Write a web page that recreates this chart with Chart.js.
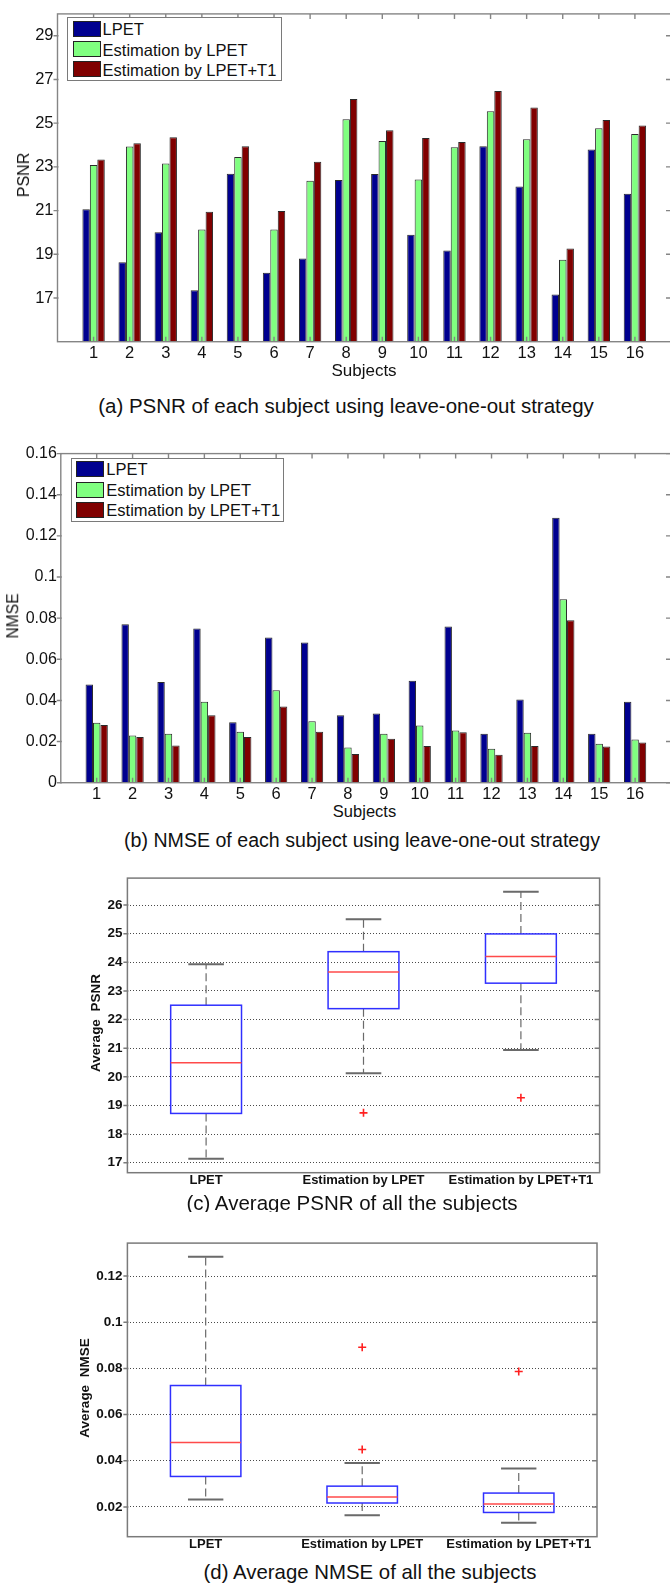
<!DOCTYPE html>
<html>
<head>
<meta charset="utf-8">
<script src="https://cdn.jsdelivr.net/npm/chart.js@4.4.1/dist/chart.umd.min.js"></script>
<style>
html, body { margin: 0; padding: 0; background: #fff; overflow: hidden; }
body { width: 670px; height: 1583px; position: relative; font-family: "Liberation Sans", Arial, sans-serif; color: #111; }
.panel { position: absolute; left: 0; }
.panel canvas { display: block; }
.t { position: absolute; white-space: pre; line-height: 1; }
.c { transform: translateX(-50%); }
.r { transform: translate(-50%, -50%) rotate(-90deg); }
.b { font-weight: bold; }
.legend { position: absolute; border: 1px solid #7a7a7a; background: #fff; box-sizing: border-box; }
.sw { position: absolute; border: 1px solid #222; box-sizing: border-box; }
.clip { position: absolute; left: 0; width: 670px; overflow: hidden; }
</style>
</head>
<body>

<div class="panel" style="top:0px"><canvas id="psnrBars" width="672" height="362"></canvas></div>
<div class="panel" style="top:440px"><canvas id="nmseBars" width="672" height="362"></canvas></div>
<div class="panel" style="top:865px"><canvas id="psnrBox" width="670" height="325"></canvas></div>
<div class="panel" style="top:1230px"><canvas id="nmseBox" width="670" height="325"></canvas></div>

<!-- axis titles -->
<div class="t r" style="left:23.5px;top:175px;font-size:16px">PSNR</div>
<div class="t c" style="left:364px;top:361.6px;font-size:17px">Subjects</div>
<div class="t r" style="left:12.8px;top:615.5px;font-size:15.6px">NMSE</div>
<div class="t c" style="left:364.5px;top:803px;font-size:16.5px">Subjects</div>
<div class="t r b" style="left:96px;top:1023px;font-size:13.5px">Average  PSNR</div>
<div class="t r b" style="left:85px;top:1387.5px;font-size:13.5px">Average  NMSE</div>

<!-- captions -->
<div class="t c" style="left:346px;top:396px;font-size:20.5px">(a) PSNR of each subject using leave-one-out strategy</div>
<div class="t c" style="left:362px;top:830.9px;font-size:19.6px">(b) NMSE of each subject using leave-one-out strategy</div>
<div class="clip" style="top:1185px;height:27px"><div class="t c" style="left:352px;top:8.3px;font-size:20.5px">(c) Average PSNR of all the subjects</div></div>
<div class="t c" style="left:370px;top:1562.2px;font-size:20.4px">(d) Average NMSE of all the subjects</div>

<div id="legA" class="legend" style="left:66.7px;top:17px;width:215px;height:64px"></div>
<div id="legB" class="legend" style="left:70.5px;top:457.7px;width:213.5px;height:64.6px"></div>

<script>
// ---- data ----
var seriesNames = ['LPET', 'Estimation by LPET', 'Estimation by LPET+T1'];
var seriesColors = ['#00008f', '#80ff80', '#800000'];
var subjects = [1, 2, 3, 4, 5, 6, 7, 8, 9, 10, 11, 12, 13, 14, 15, 16];

var psnrLpet      = [21.06, 18.63, 20.01, 17.36, 22.69, 18.15, 18.81, 22.40, 22.67, 19.89, 19.17, 23.94, 22.10, 17.16, 23.79, 21.77];
var psnrEstLpet   = [23.09, 23.93, 23.15, 20.13, 23.45, 20.13, 22.36, 25.18, 24.18, 22.42, 23.90, 25.54, 24.26, 18.75, 24.77, 24.50];
var psnrEstLpetT1 = [23.34, 24.08, 24.35, 20.95, 23.94, 20.98, 23.24, 26.11, 24.68, 24.32, 24.14, 26.47, 25.72, 19.27, 25.14, 24.89];

var nmseLpet      = [0.0477, 0.0770, 0.0490, 0.0750, 0.0294, 0.0706, 0.0682, 0.0328, 0.0336, 0.0496, 0.0760, 0.0238, 0.0405, 0.1288, 0.0238, 0.0394];
var nmseEstLpet   = [0.0291, 0.0229, 0.0238, 0.0394, 0.0248, 0.0450, 0.0299, 0.0171, 0.0238, 0.0278, 0.0254, 0.0165, 0.0243, 0.0892, 0.0189, 0.0210];
var nmseEstLpetT1 = [0.0280, 0.0222, 0.0181, 0.0328, 0.0222, 0.0370, 0.0248, 0.0139, 0.0214, 0.0179, 0.0245, 0.0136, 0.0179, 0.0790, 0.0176, 0.0195];

var psnrTicks = [17, 19, 21, 23, 25, 27, 29];
var nmseTicks = [0, 0.02, 0.04, 0.06, 0.08, 0.1, 0.12, 0.14, 0.16];

var methods = ['LPET', 'Estimation by LPET', 'Estimation by LPET+T1'];
var psnrBoxLo  = [17.14, 20.12, 20.94];
var psnrBoxQ1  = [18.72, 22.38, 23.27];
var psnrBoxMed = [20.49, 23.66, 24.20];
var psnrBoxQ3  = [22.50, 24.37, 24.99];
var psnrBoxHi  = [23.93, 25.50, 26.46];
var psnrOutX   = [2, 3];
var psnrOutY   = [18.74, 19.27];
var avgPsnrTicks = [17, 18, 19, 20, 21, 22, 23, 24, 25, 26];

var nmseBoxLo  = [0.0232, 0.0164, 0.0131];
var nmseBoxQ1  = [0.0332, 0.0217, 0.0176];
var nmseBoxMed = [0.0479, 0.0243, 0.0213];
var nmseBoxQ3  = [0.0726, 0.0290, 0.0260];
var nmseBoxHi  = [0.1284, 0.0390, 0.0366];
var nmseOutX   = [2, 2, 3];
var nmseOutY   = [0.0892, 0.0449, 0.0787];
var avgNmseTicks = [0.02, 0.04, 0.06, 0.08, 0.1, 0.12];

Chart.defaults.font.family = '"Liberation Sans", Arial, sans-serif';
Chart.defaults.color = '#111';

function fmt(v) { return String(+Number(v).toFixed(3)); }

/* ── matlab style axes box: left ticks stick out, the rest point inward ── */
var matlabFrame = {
  id: 'matlabFrame',
  afterDraw: function(chart, args, opts) {
    var ctx = chart.ctx, a = chart.chartArea, sx = chart.scales.x, sy = chart.scales.y;
    var tl = opts.tickLen;
    ctx.save();
    ctx.strokeStyle = opts.color;
    ctx.lineWidth = opts.width;
    ctx.beginPath();
    sy.ticks.forEach(function(t) {
      var y = sy.getPixelForValue(t.value);
      ctx.moveTo(a.left - 4, y); ctx.lineTo(a.left + 1, y);
      ctx.moveTo(a.right, y); ctx.lineTo(a.right - tl, y);
    });
    if (opts.xTicks) {
      sx.ticks.forEach(function(t) {
        var x = sx.getPixelForValue(t.value);
        ctx.moveTo(x, a.top); ctx.lineTo(x, a.top + tl);
        ctx.moveTo(x, a.bottom); ctx.lineTo(x, a.bottom - tl);
      });
    }
    ctx.stroke();
    ctx.strokeRect(a.left, a.top, a.right - a.left, a.bottom - a.top);
    ctx.restore();
  }
};

/* ── box + whiskers drawn through the chart scales ── */
function boxPlugin(lo, q1, med, q3, hi) {
  return {
    id: 'boxes',
    beforeDatasetsDraw: function(chart) {
      var ctx = chart.ctx, sx = chart.scales.x, sy = chart.scales.y;
      ctx.save();
      for (var i = 0; i < med.length; i++) {
        var cx = sx.getPixelForValue(i + 1);
        var hw = sx.getPixelForValue(i + 1.225) - cx;
        var cw = sx.getPixelForValue(i + 1.113) - cx;
        var yLo = sy.getPixelForValue(lo[i]), yQ1 = sy.getPixelForValue(q1[i]);
        var yMed = sy.getPixelForValue(med[i]);
        var yQ3 = sy.getPixelForValue(q3[i]), yHi = sy.getPixelForValue(hi[i]);
        // dashed whiskers
        ctx.setLineDash([8, 4]);
        ctx.strokeStyle = '#6a6a6a';
        ctx.lineWidth = 1.2;
        ctx.beginPath();
        ctx.moveTo(cx, yQ3); ctx.lineTo(cx, yHi);
        ctx.moveTo(cx, yQ1); ctx.lineTo(cx, yLo);
        ctx.stroke();
        ctx.setLineDash([]);
        // caps
        ctx.strokeStyle = '#6a6a6a';
        ctx.lineWidth = 2;
        ctx.beginPath();
        ctx.moveTo(cx - cw, yHi); ctx.lineTo(cx + cw, yHi);
        ctx.moveTo(cx - cw, yLo); ctx.lineTo(cx + cw, yLo);
        ctx.stroke();
        // box
        ctx.strokeStyle = '#3030ff';
        ctx.lineWidth = 1.5;
        ctx.strokeRect(cx - hw, yQ3, 2 * hw, yQ1 - yQ3);
        // median
        ctx.strokeStyle = '#ff4a4a';
        ctx.beginPath();
        ctx.moveTo(cx - hw, yMed); ctx.lineTo(cx + hw, yMed);
        ctx.stroke();
      }
      ctx.restore();
    }
  };
}

function barChart(id, series, yMin, yMax, yTicks, yWidth, xHeight, padTop, yFont) {
  return new Chart(document.getElementById(id), {
    type: 'bar',
    data: {
      datasets: series.map(function(vals, k) {
        return {
          label: seriesNames[k],
          data: subjects.map(function(s, i) { return { x: s, y: vals[i] }; }),
          backgroundColor: seriesColors[k],
          borderColor: '#2a2a2a',
          borderWidth: 1,
          base: yMin,
          categoryPercentage: 0.62,
          barPercentage: 1.0
        };
      })
    },
    options: {
      responsive: false,
      animation: false,
      events: [],
      layout: { padding: { top: padTop, right: 1, left: 0, bottom: 0 } },
      plugins: {
        legend: { display: false },
        tooltip: { enabled: false },
        matlabFrame: { color: '#858585', width: 1.4, tickLen: 5, xTicks: true }
      },
      scales: {
        x: {
          type: 'linear', min: 0, max: 17, offset: false,
          grid: { display: false, drawTicks: false },
          border: { display: false },
          afterBuildTicks: function(s) { s.ticks = subjects.map(function(v) { return { value: v }; }); },
          afterFit: function(s) { s.height = xHeight; },
          ticks: { padding: 2, autoSkip: false, maxRotation: 0, font: { size: 16.5 }, callback: function(v) { return String(v); } }
        },
        y: {
          min: yMin, max: yMax,
          grid: { display: false, drawTicks: false },
          border: { display: false },
          afterBuildTicks: function(s) { s.ticks = yTicks.map(function(v) { return { value: v }; }); },
          afterFit: function(s) { s.width = yWidth; },
          ticks: { padding: 4, font: { size: yFont }, callback: fmt }
        }
      }
    },
    plugins: [matlabFrame]
  });
}

function boxChart(id, stats, outX, outY, yMin, yMax, yTicks, xHeight, padRight) {
  return new Chart(document.getElementById(id), {
    type: 'scatter',
    data: {
      datasets: [{
        data: outX.map(function(x, i) { return { x: x, y: outY[i] }; }),
        pointStyle: 'cross',
        pointRadius: 4,
        borderColor: '#ff2020',
        borderWidth: 1.6
      }]
    },
    options: {
      responsive: false,
      animation: false,
      events: [],
      layout: { padding: { top: 10, right: padRight, left: 0, bottom: 0 } },
      plugins: {
        legend: { display: false },
        tooltip: { enabled: false },
        matlabFrame: { color: '#7a7a7a', width: 1.5, tickLen: 5, xTicks: false }
      },
      scales: {
        x: {
          type: 'linear', min: 0.5, max: 3.5,
          grid: { display: false, drawTicks: false },
          border: { display: false },
          afterBuildTicks: function(s) { s.ticks = methods.map(function(m, i) { return { value: i + 1 }; }); },
          afterFit: function(s) { s.height = xHeight; },
          ticks: { padding: 0, autoSkip: false, maxRotation: 0, font: { size: 13, weight: 'bold' }, callback: function(v) { return methods[v - 1]; } }
        },
        y: {
          min: yMin, max: yMax,
          grid: { display: true, drawTicks: false, color: '#4a4a4a', lineWidth: 1 },
          border: { display: false, dash: [1, 2] },
          afterBuildTicks: function(s) { s.ticks = yTicks.map(function(v) { return { value: v }; }); },
          afterFit: function(s) { s.width = 127.4; },
          ticks: { padding: 5, font: { size: 13.5, weight: 'bold' }, callback: fmt }
        }
      }
    },
    plugins: [boxPlugin(stats[0], stats[1], stats[2], stats[3], stats[4]), matlabFrame]
  });
}

barChart('psnrBars', [psnrLpet, psnrEstLpet, psnrEstLpetT1], 15, 30, psnrTicks, 57.5, 20.3, 6.7, 16.5);
barChart('nmseBars', [nmseLpet, nmseEstLpet, nmseEstLpetT1], 0, 0.16, nmseTicks, 60.8, 19.3, 8.3, 16);
boxChart('psnrBox', [psnrBoxLo, psnrBoxQ1, psnrBoxMed, psnrBoxQ3, psnrBoxHi], psnrOutX, psnrOutY, 16.65, 26.94, avgPsnrTicks, 17.3, 70.4);
boxChart('nmseBox', [nmseBoxLo, nmseBoxQ1, nmseBoxMed, nmseBoxQ3, nmseBoxHi], nmseOutX, nmseOutY, 0.0071, 0.1343, avgNmseTicks, 18.3, 73);

/* ── legends (html, inside the axes) ── */
function buildLegend(elId, swLeft, swTops, textLeft, baselines) {
  var box = document.getElementById(elId);
  var r = box.getBoundingClientRect();
  var ox = r.left + 1, oy = r.top + 1;
  seriesNames.forEach(function(name, k) {
    var sw = document.createElement('div');
    sw.className = 'sw';
    sw.style.left = (swLeft - ox) + 'px';
    sw.style.top = (swTops[k] - oy) + 'px';
    sw.style.width = '28px';
    sw.style.height = '16px';
    sw.style.background = seriesColors[k];
    box.appendChild(sw);
    var t = document.createElement('div');
    t.className = 't';
    t.style.fontSize = '16.5px';
    t.style.left = (textLeft - ox) + 'px';
    t.style.top = (baselines[k] - 16.5 * 0.8465 - oy) + 'px';
    t.textContent = name;
    box.appendChild(t);
  });
}
buildLegend('legA', 72.6, [20.7, 40.7, 61.3], 102.6, [35, 55.5, 76]);
buildLegend('legB', 76, [461, 481.7, 502.3], 106.3, [475.3, 495.7, 516.2]);
</script>
</body>
</html>
